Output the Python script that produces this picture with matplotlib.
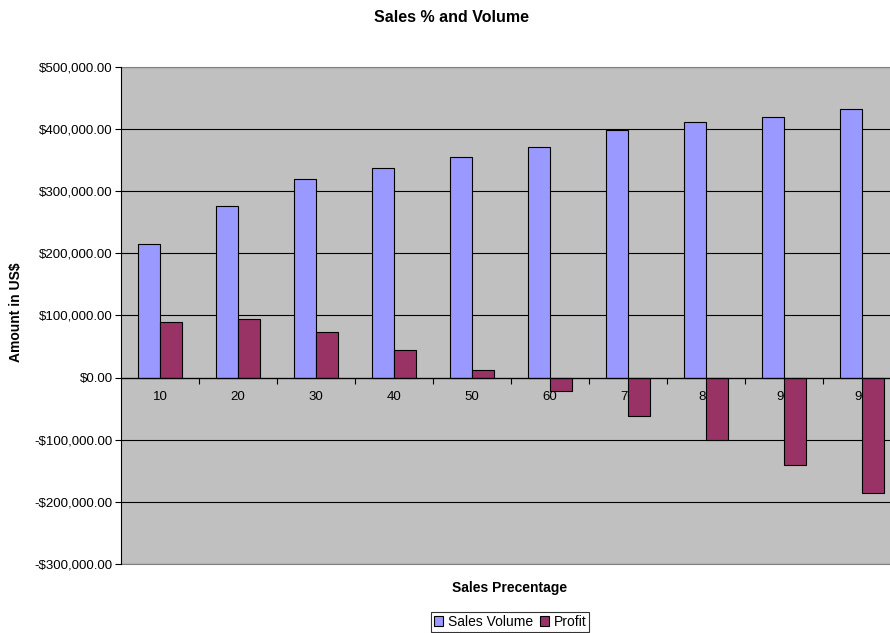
import numpy as np
import matplotlib.pyplot as plt
from matplotlib.patches import Patch
from matplotlib.ticker import FuncFormatter

plt.rcParams['font.family'] = ['Liberation Sans', 'DejaVu Sans']

categories = ['10', '20', '30', '40', '50', '60', '70', '80', '90', '99']
sales_volume = [215000, 276000, 320000, 338000, 355000, 372000, 398000, 411000, 420000, 433000]
profit = [90000, 95000, 73000, 45000, 13000, -22000, -61000, -101000, -140000, -185000]

fig = plt.figure(figsize=(8.9, 6.33), dpi=100)
# plot area runs past the right edge of the picture
ax = fig.add_axes([121 / 890, 1 - 564 / 633, 780 / 890, 497 / 633])
ax.set_facecolor('#C0C0C0')

x = np.arange(len(categories))
w = 1 / 3.5
ax.bar(x - w / 2, sales_volume, w, color='#9999FF', edgecolor='black', linewidth=0.8, zorder=3)
ax.bar(x + w / 2, profit, w, color='#993366', edgecolor='black', linewidth=0.8, zorder=3)

ax.set_xlim(-0.5, len(categories) - 0.5)
ax.set_ylim(-300000, 500000)
ax.set_yticks(np.arange(-300000, 500001, 100000))

def money(v, pos):
    s = '${:,.2f}'.format(abs(v))
    return '-' + s if v < 0 else s

ax.yaxis.set_major_formatter(FuncFormatter(money))
ax.tick_params(axis='y', labelsize=9.5, length=4, width=0.8, direction='out', pad=2)
ax.grid(axis='y', color='black', linewidth=0.8, zorder=1)
ax.set_axisbelow(True)

# category axis sits on zero, labels drawn beneath the bars
ax.set_xticks([])
ax.axhline(0, color='black', linewidth=0.9, zorder=4)
bounds = np.arange(0.5, len(categories) - 0.5, 1)
ax.plot(bounds, np.zeros_like(bounds), linestyle='none', marker=3, markersize=4,
        markeredgewidth=0.8, color='black', zorder=4)
for i, c in enumerate(categories):
    ax.annotate(c, (i, 0), xytext=(0, -14), textcoords='offset points', ha='center', va='center',
                fontsize=9.5, zorder=2)

for side in ['top', 'bottom', 'right']:
    ax.spines[side].set_color('#808080')
ax.spines['left'].set_color('black')
ax.spines['left'].set_zorder(5)

fig.text(452 / 890, 1 - 17 / 633, 'Sales % and Volume', ha='center', va='center',
         fontsize=11.5, fontweight='bold')
fig.text(16 / 890, 1 - 312 / 633, 'Amount in US$', ha='center', va='center', rotation=90,
         fontsize=10, fontweight='bold')
fig.text(510 / 890, 1 - 588 / 633, 'Sales Precentage', ha='center', va='center',
         fontsize=10, fontweight='bold')

handles = [Patch(facecolor='#9999FF', edgecolor='black', linewidth=0.8, label='Sales Volume'),
           Patch(facecolor='#993366', edgecolor='black', linewidth=0.8, label='Profit')]
leg = fig.legend(handles=handles, loc='center', bbox_to_anchor=(510 / 890, 1 - 622 / 633), ncol=2,
                 fontsize=10, frameon=True, fancybox=False, handlelength=0.7, handleheight=0.7,
                 handletextpad=0.3, columnspacing=0.5, borderpad=0.2, borderaxespad=0)
leg.get_frame().set_edgecolor('black')
leg.get_frame().set_linewidth(0.8)

fig.savefig('out.png', dpi=100)
